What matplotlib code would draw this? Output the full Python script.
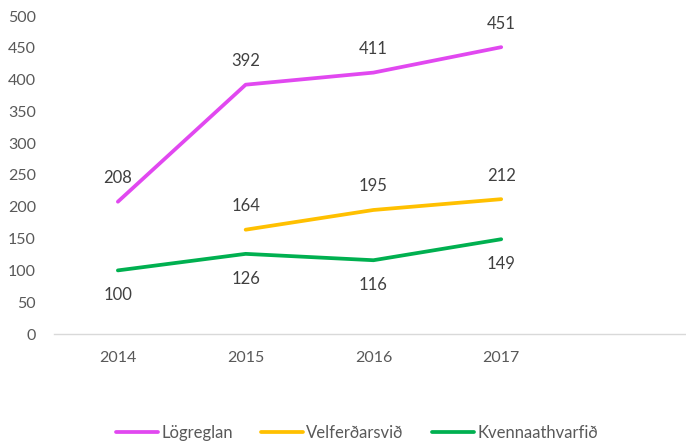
import numpy as np
import matplotlib.pyplot as plt

years = ['2014', '2015', '2016', '2017', '']
logreglan = [208, 392, 411, 451]
velferd = [None, 164, 195, 212]
kvenna = [100, 126, 116, 149]

series = [
    ('Lögreglan', logreglan, '#E148F0', 'above'),
    ('Velferðarsvið', velferd, '#FFC000', 'above'),
    ('Kvennaathvarfið', kvenna, '#00B050', 'below'),
]

plt.rcParams['font.family'] = ['Lato', 'DejaVu Sans']
txt = '#595959'

fig = plt.figure(figsize=(6.86, 4.42), dpi=100)
ax = fig.add_axes([54 / 686, 1 - 334 / 442, 1 - 54 / 686 + 0.01, (334 - 16) / 442])

for name, vals, col, pos in series:
    xs = [i for i, v in enumerate(vals) if v is not None]
    ys = [v for v in vals if v is not None]
    ax.plot(xs, ys, color=col, lw=2.7, label=name, solid_capstyle='round')
    for x, y in zip(xs, ys):
        off = 17 if pos == 'above' else -18
        ax.annotate(str(y), (x, y), xytext=(0, off), textcoords='offset points',
                    ha='center', va='center', fontsize=12, color='#404040')

ax.set_xlim(-0.5, 4.5)
ax.set_ylim(0, 500)
ax.set_yticks(np.arange(0, 501, 50))
ax.set_xticks(range(len(years)))
ax.set_xticklabels(years)
ax.tick_params(length=0, labelsize=11.5, colors=txt)
ax.tick_params(axis='x', pad=12)
ax.tick_params(axis='y', pad=13)
for s in ['top', 'right', 'left']:
    ax.spines[s].set_visible(False)
ax.spines['bottom'].set_color('#D9D9D9')
ax.spines['bottom'].set_linewidth(1)

fig.legend(loc='center', bbox_to_anchor=(357 / 686, 1 - 433 / 442), ncol=3,
           frameon=False, fontsize=12, handlelength=2.5, handletextpad=0.2,
           columnspacing=1.7, labelcolor=txt)

fig.savefig('out.png', dpi=100)
